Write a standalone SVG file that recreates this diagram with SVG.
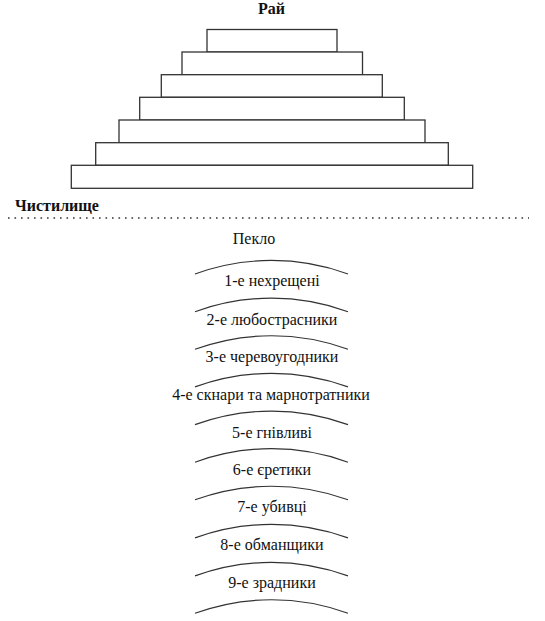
<svg xmlns="http://www.w3.org/2000/svg" width="545" height="621" viewBox="0 0 545 621">
<style>
.step{fill:#fff;stroke:#333;stroke-width:1.3}
.arc{fill:none;stroke:#333;stroke-width:1.2}
text{font-family:'Liberation Serif','Times New Roman','DejaVu Serif',serif;font-size:16px;fill:#111;text-anchor:middle}
.b{font-weight:bold}
.dots{stroke:#333;stroke-width:1.6;stroke-dasharray:1.6 4.9;fill:none}
</style>
<rect width="545" height="621" fill="#fff"/>
<g id="paradise">
<text class="b" x="271.5" y="14">Рай</text>
<rect class="step" x="207" y="29.5" width="130" height="22.5"/>
<rect class="step" x="182" y="52" width="180.5" height="22.7"/>
<rect class="step" x="161.3" y="74.7" width="221" height="22.6"/>
<rect class="step" x="139.7" y="97.3" width="264.6" height="22.7"/>
<rect class="step" x="119" y="120" width="306" height="22.7"/>
<rect class="step" x="95.7" y="142.7" width="352.6" height="22.6"/>
<rect class="step" x="71.3" y="165.3" width="401.4" height="23"/>
</g>
<g id="purgatory">
<text class="b" x="15" y="211" style="text-anchor:start">Чистилище</text>
<line class="dots" x1="8" y1="218" x2="529" y2="218"/>
</g>
<g id="hell">
<text x="254" y="244">Пекло</text>
</g>
<g id="circles">
<path class="arc" d="M195 274.0 A223 223 0 0 1 348 274.0"/>
<path class="arc" d="M195 311.7 A223 223 0 0 1 348 311.7"/>
<path class="arc" d="M195 349.3 A223 223 0 0 1 348 349.3"/>
<path class="arc" d="M195 386.9 A223 223 0 0 1 348 386.9"/>
<path class="arc" d="M195 424.6 A223 223 0 0 1 348 424.6"/>
<path class="arc" d="M195 462.2 A223 223 0 0 1 348 462.2"/>
<path class="arc" d="M195 499.8 A223 223 0 0 1 348 499.8"/>
<path class="arc" d="M195 537.9 A223 223 0 0 1 348 537.9"/>
<path class="arc" d="M195 575.9 A223 223 0 0 1 348 575.9"/>
<path class="arc" d="M195 613.3 A223 223 0 0 1 348 613.3"/>
</g>
<g id="circle1"><text x="272" y="286">1-е нехрещені</text></g>
<g id="circle2"><text x="272" y="324.5">2-е любострасники</text></g>
<g id="circle3"><text x="272" y="362">3-е черевоугодники</text></g>
<g id="circle4"><text x="271" y="400">4-е скнари та марнотратники</text></g>
<g id="circle5"><text x="272" y="437.5">5-е гнівливі</text></g>
<g id="circle6"><text x="272" y="474.5">6-е єретики</text></g>
<g id="circle7"><text x="272" y="512">7-е убивці</text></g>
<g id="circle8"><text x="272" y="550">8-е обманщики</text></g>
<g id="circle9"><text x="272" y="587.5">9-е зрадники</text></g>
</svg>
